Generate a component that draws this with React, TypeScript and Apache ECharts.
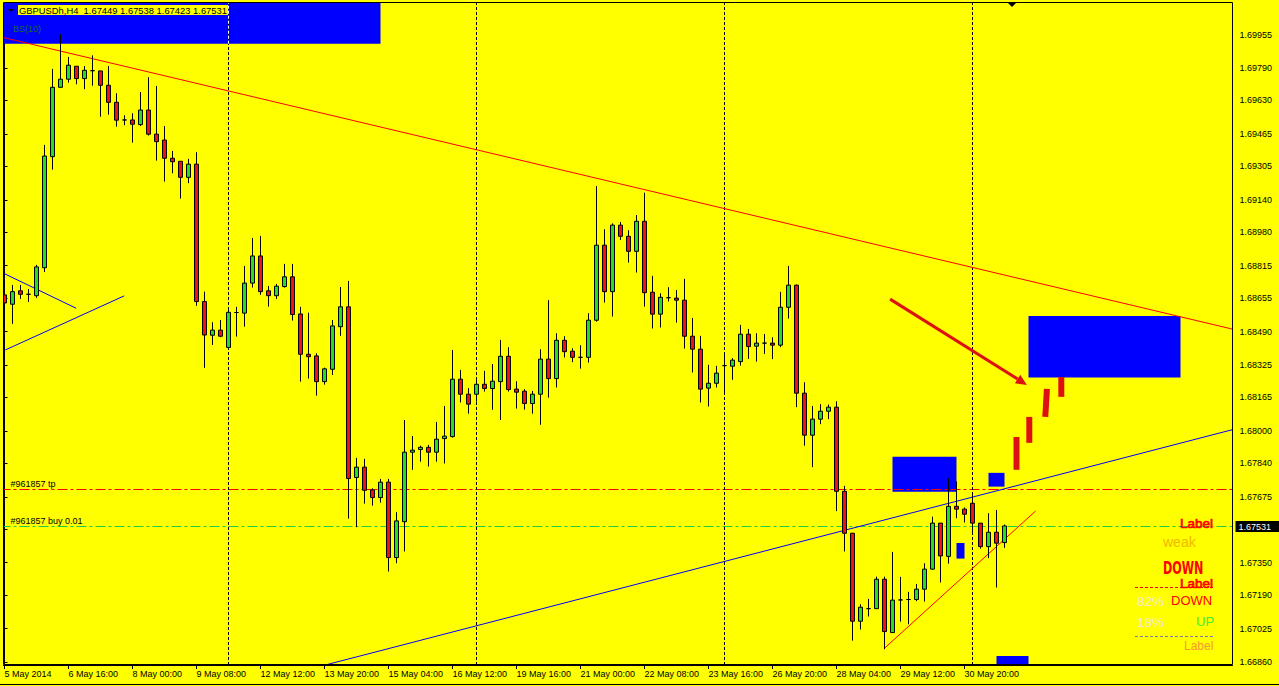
import React, { useEffect, useRef } from 'react';
import * as echarts from 'echarts';

const FONT = "'Liberation Sans', Arial, sans-serif";

// x tick labels (one every 8 H4 bars, starting at bar 0)
const xTickLabels = ['5 May 2014', '6 May 16:00', '8 May 00:00', '9 May 08:00', '12 May 12:00', '13 May 20:00', '15 May 04:00', '16 May 12:00', '19 May 16:00', '21 May 00:00', '22 May 08:00', '23 May 16:00', '26 May 20:00', '28 May 04:00', '29 May 12:00', '30 May 20:00'];
const xTickEvery = 8;

// y tick labels on the price scale
const yTickLabels = ['1.69955', '1.69790', '1.69630', '1.69465', '1.69305', '1.69140', '1.68980', '1.68815', '1.68655', '1.68490', '1.68325', '1.68165', '1.68000', '1.67840', '1.67675', '1.67515', '1.67350', '1.67190', '1.67025', '1.66860'];
const yMin = 1.66845;
const yMax = 1.70111;

// bar slots on the time axis (126 bars + chart shift space)
const slotCount = 154;
const barSlots = Array.from({ length: slotCount }, (_, i) => String(i));

// candles: [open, close, low, high]
const candles = [
  [1.68671, 1.68631, 1.68582, 1.68745], [1.68625, 1.68687, 1.68528, 1.68720], [1.68691, 1.68674, 1.68651, 1.68720], [1.68674, 1.68674, 1.68636, 1.68700],
  [1.68667, 1.68809, 1.68656, 1.68819], [1.68805, 1.69356, 1.68784, 1.69411], [1.69353, 1.69695, 1.69289, 1.69786], [1.69695, 1.69735, 1.69693, 1.69958],
  [1.69735, 1.69804, 1.69718, 1.69845], [1.69799, 1.69738, 1.69710, 1.69799], [1.69738, 1.69779, 1.69686, 1.69800], [1.69777, 1.69777, 1.69703, 1.69853],
  [1.69776, 1.69705, 1.69550, 1.69776], [1.69705, 1.69621, 1.69560, 1.69800], [1.69621, 1.69533, 1.69501, 1.69666], [1.69534, 1.69534, 1.69508, 1.69557],
  [1.69534, 1.69513, 1.69422, 1.69567], [1.69511, 1.69583, 1.69504, 1.69672], [1.69583, 1.69464, 1.69457, 1.69745], [1.69464, 1.69427, 1.69333, 1.69702],
  [1.69435, 1.69345, 1.69230, 1.69504], [1.69345, 1.69328, 1.69271, 1.69381], [1.69330, 1.69251, 1.69146, 1.69330], [1.69251, 1.69316, 1.69222, 1.69342],
  [1.69316, 1.68638, 1.68617, 1.69375], [1.68638, 1.68473, 1.68311, 1.68687], [1.68472, 1.68497, 1.68424, 1.68536], [1.68497, 1.68467, 1.68462, 1.68547],
  [1.68412, 1.68585, 1.68399, 1.68607], [1.68584, 1.68584, 1.68465, 1.68612], [1.68581, 1.68729, 1.68514, 1.68814], [1.68729, 1.68863, 1.68707, 1.68952],
  [1.68863, 1.68687, 1.68671, 1.68962], [1.68691, 1.68667, 1.68613, 1.68715], [1.68667, 1.68714, 1.68651, 1.68725], [1.68712, 1.68760, 1.68707, 1.68824],
  [1.68760, 1.68574, 1.68544, 1.68824], [1.68577, 1.68378, 1.68243, 1.68612], [1.68378, 1.68366, 1.68258, 1.68583], [1.68370, 1.68243, 1.68174, 1.68383],
  [1.68243, 1.68306, 1.68228, 1.68312], [1.68304, 1.68518, 1.68276, 1.68547], [1.68514, 1.68612, 1.68469, 1.68710], [1.68612, 1.67765, 1.67567, 1.68740],
  [1.67770, 1.67821, 1.67525, 1.67867], [1.67821, 1.67707, 1.67641, 1.67862], [1.67709, 1.67671, 1.67631, 1.67717], [1.67671, 1.67747, 1.67646, 1.67763],
  [1.67747, 1.67375, 1.67306, 1.67763], [1.67375, 1.67556, 1.67347, 1.67599], [1.67552, 1.67895, 1.67405, 1.68054], [1.67895, 1.67905, 1.67808, 1.67975],
  [1.67908, 1.67919, 1.67848, 1.67927], [1.67919, 1.67895, 1.67824, 1.67931], [1.67895, 1.67959, 1.67848, 1.68044], [1.67962, 1.67974, 1.67839, 1.68123],
  [1.67972, 1.68255, 1.67967, 1.68399], [1.68255, 1.68181, 1.68140, 1.68301], [1.68181, 1.68132, 1.68085, 1.68211], [1.68181, 1.68230, 1.68144, 1.68256],
  [1.68230, 1.68209, 1.68194, 1.68296], [1.68209, 1.68245, 1.68104, 1.68330], [1.68243, 1.68368, 1.68054, 1.68449], [1.68368, 1.68204, 1.68194, 1.68413],
  [1.68206, 1.68191, 1.68110, 1.68245], [1.68196, 1.68135, 1.68105, 1.68206], [1.68135, 1.68181, 1.68085, 1.68197], [1.68181, 1.68354, 1.68030, 1.68403],
  [1.68354, 1.68258, 1.68164, 1.68645], [1.68258, 1.68447, 1.68214, 1.68482], [1.68447, 1.68391, 1.68362, 1.68467], [1.68393, 1.68363, 1.68339, 1.68408],
  [1.68363, 1.68363, 1.68307, 1.68423], [1.68363, 1.68546, 1.68337, 1.68581], [1.68546, 1.68916, 1.68539, 1.69208], [1.68916, 1.68687, 1.68633, 1.68995],
  [1.68687, 1.69015, 1.68564, 1.69024], [1.69015, 1.68960, 1.68942, 1.69031], [1.68960, 1.68886, 1.68830, 1.68990], [1.68886, 1.69034, 1.68781, 1.69065],
  [1.69034, 1.68682, 1.68613, 1.69175], [1.68684, 1.68576, 1.68505, 1.68765], [1.68576, 1.68659, 1.68510, 1.68679], [1.68657, 1.68657, 1.68638, 1.68709],
  [1.68655, 1.68645, 1.68534, 1.68695], [1.68645, 1.68467, 1.68406, 1.68750], [1.68467, 1.68403, 1.68288, 1.68557], [1.68403, 1.68206, 1.68140, 1.68469],
  [1.68211, 1.68235, 1.68120, 1.68326], [1.68235, 1.68285, 1.68214, 1.68321], [1.68322, 1.68322, 1.68179, 1.68375], [1.68319, 1.68349, 1.68252, 1.68359],
  [1.68342, 1.68477, 1.68322, 1.68523], [1.68477, 1.68416, 1.68355, 1.68503], [1.68418, 1.68433, 1.68342, 1.68482], [1.68433, 1.68433, 1.68380, 1.68478],
  [1.68433, 1.68423, 1.68354, 1.68462], [1.68423, 1.68610, 1.68413, 1.68686], [1.68610, 1.68719, 1.68554, 1.68814], [1.68719, 1.68186, 1.68117, 1.68722],
  [1.68186, 1.67979, 1.67927, 1.68240], [1.67979, 1.68058, 1.67821, 1.68123], [1.68058, 1.68097, 1.68033, 1.68132], [1.68097, 1.68117, 1.68058, 1.68130],
  [1.68117, 1.67702, 1.67604, 1.68146], [1.67702, 1.67495, 1.67405, 1.67729], [1.67495, 1.67061, 1.66965, 1.67497], [1.67061, 1.67130, 1.67020, 1.67145],
  [1.67123, 1.67123, 1.67084, 1.67171], [1.67123, 1.67268, 1.67123, 1.67281], [1.67268, 1.67010, 1.66923, 1.67281], [1.67005, 1.67165, 1.67005, 1.67403],
  [1.67166, 1.67166, 1.67059, 1.67280], [1.67168, 1.67168, 1.67046, 1.67206], [1.67168, 1.67219, 1.67160, 1.67245], [1.67219, 1.67318, 1.67158, 1.67347],
  [1.67318, 1.67545, 1.67314, 1.67577], [1.67545, 1.67383, 1.67252, 1.67545], [1.67381, 1.67628, 1.67345, 1.67767], [1.67628, 1.67614, 1.67569, 1.67750],
  [1.67614, 1.67589, 1.67548, 1.67622], [1.67643, 1.67545, 1.67495, 1.67684], [1.67545, 1.67429, 1.67419, 1.67545], [1.67429, 1.67500, 1.67372, 1.67594],
  [1.67500, 1.67446, 1.67227, 1.67610], [1.67449, 1.67531, 1.67423, 1.67538],
];

// order levels and their labels
const orderLevels = [1.67712, 1.67530];
const orderLabels = ['#961857 tp', '#961857 buy 0.01'];
const orderColors = ['#FF0000', '#22CC44'];
const bidPrice = 1.67531;

// weekly separators (bar index)
const weekSeparators = [28, 59, 90, 121];

// drawn objects, in [bar index, price] space: segments [x0, y0, x1, y1]
const redTrend = [[-0.5, 1.69944, 153.5, 1.68502]];
const blueTrend = [[40.2, 1.66846, 153.5, 1.68006]];
const blueShort = [[-0.13, 1.68778, 8.96, 1.68605], [0.09, 1.68399, 14.96, 1.68666]];
const redShort = [[110, 1.66928, 128.9, 1.67605]];
const arrowLine = [[110.7, 1.68650, 127.8, 1.68227]];
const forecastBars = [[126.5, 1.67808, 126.5, 1.67970], [128.1, 1.67941, 128.1, 1.68069], [130.1, 1.68069, 130.3, 1.68207], [132.1, 1.68168, 132.1, 1.68266]];
// boxes [x0, x1, y0, y1]
const boxes = [[-0.12, 47, 1.69910, 1.70111], [111, 119, 1.67700, 1.67872], [123, 125, 1.67725, 1.67793], [119, 120, 1.67370, 1.67447], [124, 128, 1.66845, 1.66890], [128, 147, 1.68263, 1.68567]];

const segSeries = (name: string, segs: number[][], color: string, width: number, dash: number[] | null, z: number) => ({
  name,
  type: 'custom',
  xAxisIndex: 1,
  yAxisIndex: 0,
  clip: true,
  silent: true,
  z,
  data: segs,
  renderItem: (_p: any, api: any) => {
    const a = api.coord([api.value(0), api.value(1)]);
    const b = api.coord([api.value(2), api.value(3)]);
    return {
      type: 'line',
      shape: { x1: a[0], y1: a[1], x2: b[0], y2: b[1] },
      style: { stroke: color, lineWidth: width, lineDash: dash, lineCap: 'butt', fill: null },
    };
  },
});

const labelText = (text: string, x: number, y: number, fill: string, size: number, extra: any = {}, el: any = {}) => ({
  type: 'text',
  x,
  y,
  z: 200,
  silent: true,
  ...el,
  style: { text, fill, fontSize: size, fontFamily: FONT, textVerticalAlign: 'top', ...extra },
});

export default function App() {
  const ref = useRef<HTMLDivElement>(null);
  useEffect(() => {
    if (!ref.current) return;
    const chart = echarts.init(ref.current, null, { renderer: 'svg' });
    const yTickValues = yTickLabels.map(Number);
    const showTick = (index: number) => index % xTickEvery === 0 && index / xTickEvery < xTickLabels.length;

    const option: any = {
      animation: false,
      backgroundColor: '#FFFF00',
      grid: { left: 0.5, top: 3, width: 1232, height: 662, containLabel: false, outerBoundsMode: 'none' },
      xAxis: [
        {
          type: 'category',
          data: barSlots,
          boundaryGap: true,
          axisLine: { show: true, lineStyle: { color: '#000', width: 1 } },
          axisTick: { show: true, interval: (i: number) => showTick(i), alignWithLabel: true, length: 4, lineStyle: { color: '#000' } },
          axisLabel: {
            interval: (i: number) => showTick(i),
            formatter: (v: string) => xTickLabels[Number(v) / xTickEvery] ?? '',
            align: 'left',
            color: '#000',
            fontSize: 9,
            fontFamily: FONT,
            margin: 4,
          },
          splitLine: { show: false },
        },
        { type: 'value', min: -0.5, max: slotCount - 0.5, show: false },
      ],
      yAxis: [
        {
          type: 'value',
          position: 'right',
          min: yMin,
          max: yMax,
          axisLine: { show: true, lineStyle: { color: '#000' } },
          axisTick: { show: true, customValues: yTickValues, length: 3, lineStyle: { color: '#000' } },
          axisLabel: { customValues: yTickValues, formatter: (v: number) => v.toFixed(5), color: '#000', fontSize: 9, fontFamily: FONT, margin: 7 },
          splitLine: { show: false },
        },
      ],
      series: [
        {
          name: 'objects',
          type: 'custom',
          xAxisIndex: 1,
          yAxisIndex: 0,
          clip: true,
          silent: true,
          z: 1,
          data: boxes,
          renderItem: (_p: any, api: any) => {
            const a = api.coord([api.value(0), api.value(3)]);
            const b = api.coord([api.value(1), api.value(2)]);
            return { type: 'rect', shape: { x: a[0], y: a[1], width: b[0] - a[0], height: b[1] - a[1] }, style: { fill: '#0000FF' } };
          },
        },
        {
          name: 'orders',
          type: 'custom',
          xAxisIndex: 1,
          yAxisIndex: 0,
          silent: true,
          z: 2,
          data: orderLevels.map((p) => [0, p]),
          renderItem: (params: any, api: any) => {
            const cs = params.coordSys;
            const y = Math.round(api.coord([0, api.value(1)])[1]) + 0.5;
            const i = params.dataIndex;
            return {
              type: 'group',
              children: [
                { type: 'line', shape: { x1: cs.x, y1: y, x2: cs.x + cs.width, y2: y }, style: { stroke: orderColors[i], lineWidth: 1, lineDash: [10, 3, 3, 3] } },
                { type: 'text', x: cs.x + 10, y: y - 1.5, style: { text: orderLabels[i], fill: '#000', fontSize: 9, fontFamily: FONT, textVerticalAlign: 'bottom' } },
              ],
            };
          },
        },
        segSeries('separators', weekSeparators.map((x) => [x, yMin, x, yMax]), '#000', 1, [3, 2], 2),
        segSeries('separatorOnBox', [[weekSeparators[0], boxes[0][2], weekSeparators[0], boxes[0][3]]], '#FFF', 1, [3, 2], 2),
        segSeries('redTrend', redTrend, '#FF0000', 1, null, 3),
        segSeries('blueTrend', blueTrend, '#0000FF', 1, null, 3),
        segSeries('blueShort', blueShort, '#0000FF', 1, null, 3),
        segSeries('redShort', redShort, '#FF0000', 1, null, 3),
        segSeries('forecast', forecastBars, '#DD1111', 6, null, 3),
        {
          name: 'arrow',
          type: 'custom',
          xAxisIndex: 1,
          yAxisIndex: 0,
          silent: true,
          z: 3,
          data: arrowLine,
          renderItem: (_p: any, api: any) => {
            const a = api.coord([api.value(0), api.value(1)]);
            const b = api.coord([api.value(2), api.value(3)]);
            const ang = Math.atan2(b[1] - a[1], b[0] - a[0]);
            const L = 11;
            const W = 5;
            const back = [b[0] - L * Math.cos(ang), b[1] - L * Math.sin(ang)];
            const nx = -Math.sin(ang);
            const ny = Math.cos(ang);
            return {
              type: 'group',
              children: [
                { type: 'line', shape: { x1: a[0], y1: a[1], x2: back[0], y2: back[1] }, style: { stroke: '#DD1111', lineWidth: 3 } },
                { type: 'polygon', shape: { points: [b, [back[0] + W * nx, back[1] + W * ny], [back[0] - W * nx, back[1] - W * ny]] }, style: { fill: '#DD1111' } },
              ],
            };
          },
        },
        {
          name: 'GBPUSDh',
          type: 'candlestick',
          xAxisIndex: 0,
          yAxisIndex: 0,
          data: candles,
          barWidth: 5,
          z: 5,
          silent: true,
          itemStyle: { color: '#22DD22', color0: '#EE1111', borderColor: '#000', borderColor0: '#000', borderColorDoji: '#000', borderWidth: 1 },
        },
        {
          name: 'bid',
          type: 'custom',
          xAxisIndex: 1,
          yAxisIndex: 0,
          silent: true,
          clip: false,
          z: 20,
          data: [[0, bidPrice]],
          renderItem: (params: any, api: any) => {
            const cs = params.coordSys;
            const y = api.coord([0, api.value(1)])[1];
            const x = cs.x + cs.width + 3;
            return {
              type: 'group',
              children: [
                { type: 'rect', shape: { x, y: Math.round(y) - 5, width: 44, height: 11 }, style: { fill: '#000' } },
                { type: 'text', x: x + 3, y: Math.round(y) + 0.5, style: { text: api.value(1).toFixed(5), fill: '#FFF', fontSize: 9, fontFamily: FONT, textVerticalAlign: 'middle' } },
              ],
            };
          },
        },
      ],
      graphic: [
        { type: 'rect', z: 150, silent: true, shape: { x: 0, y: 0, width: 3, height: 686 }, style: { fill: '#FFFF00' } },
        { type: 'rect', z: 150, silent: true, shape: { x: 0, y: 0, width: 1279, height: 2.5 }, style: { fill: '#FFFF00' } },
        { type: 'rect', z: 151, silent: true, shape: { x: 3.5, y: 2.5, width: 1229, height: 662 }, style: { fill: 'none', stroke: '#000', lineWidth: 1 } },
        { type: 'line', z: 151, silent: true, shape: { x1: 0, y1: 684.5, x2: 1279, y2: 684.5 }, style: { stroke: '#000', lineWidth: 1 } },
        { type: 'polygon', z: 200, silent: true, shape: { points: [[8, 9], [14, 9], [11, 12]] }, style: { fill: '#000' } },
        { type: 'polygon', z: 200, silent: true, shape: { points: [[1008, 3], [1016, 3], [1012, 7]] }, style: { fill: '#000' } },
        labelText('GBPUSDh,H4  1.67449 1.67538 1.67423 1.67531', 18, 5, '#000', 9.4, { backgroundColor: '#FFFF00', padding: [1, 1, 0, 1] }),
        labelText('BS(10)', 13, 24, '#1A6B1A', 9),
        labelText('Label', 1180, 516, '#FF0000', 13.5, { stroke: '#FF0000', lineWidth: 0.7 }),
        labelText('weak', 1163, 535, '#F0B800', 14),
        labelText('DOWN', 1163, 560, '#FF0000', 17, { fontWeight: 'bold', fontFamily: "'Liberation Sans Narrow', 'DejaVu Sans Condensed', sans-serif" }, { scaleX: 0.73 }),
        { type: 'line', z: 200, silent: true, shape: { x1: 1135, y1: 587.5, x2: 1213, y2: 587.5 }, style: { stroke: '#FF0000', lineWidth: 1, lineDash: [3, 2] } },
        labelText('Label', 1180, 576, '#FF0000', 13.5, { stroke: '#FF0000', lineWidth: 0.7 }),
        labelText('82%', 1137, 594, '#F3EDC8', 13.5),
        labelText('DOWN', 1171, 594, '#FF0000', 13),
        labelText('18%', 1137, 615, '#F3EDC8', 13.5),
        labelText('UP', 1196, 615, '#40F030', 13),
        { type: 'line', z: 200, silent: true, shape: { x1: 1135, y1: 636.5, x2: 1213, y2: 636.5 }, style: { stroke: '#7B7BA8', lineWidth: 1, lineDash: [3, 2] } },
        labelText('Label', 1184, 640, '#F59A32', 12),
      ],
    };
    chart.setOption(option);
    return () => chart.dispose();
  }, []);
  return <div ref={ref} style={{ position: 'fixed', left: 0, top: 0, width: 1279, height: 686 }} />;
}
